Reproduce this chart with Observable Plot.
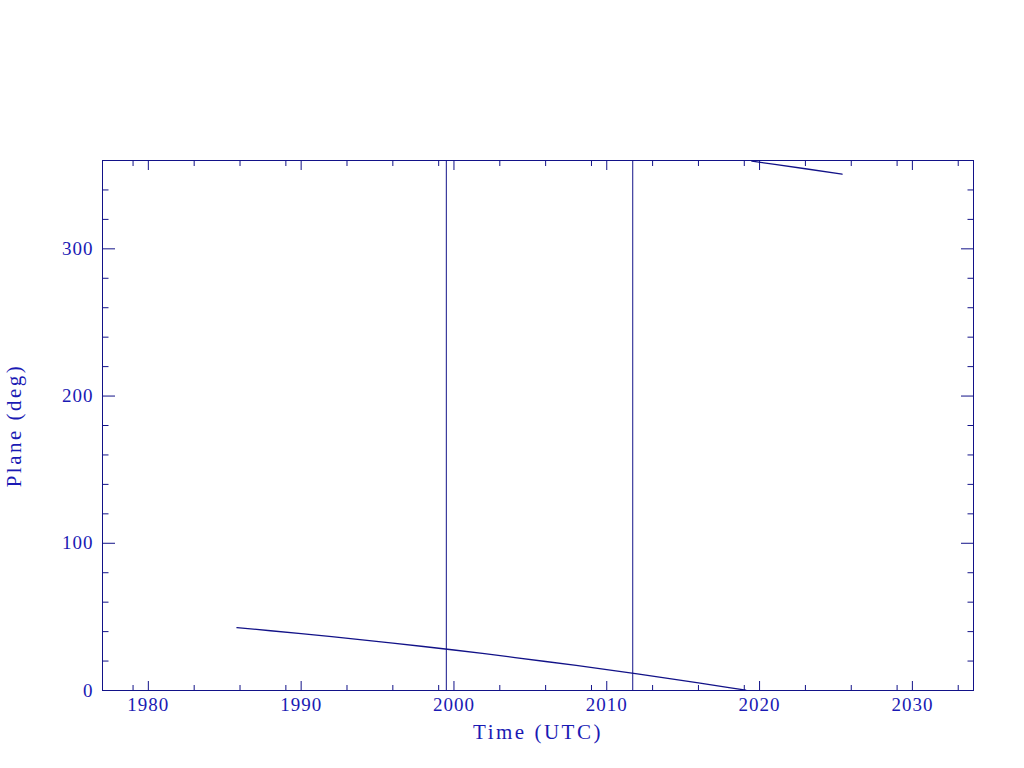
<!DOCTYPE html>
<html>
<head>
<meta charset="utf-8">
<script src="https://cdn.jsdelivr.net/npm/d3@7"></script>
<script src="https://cdn.jsdelivr.net/npm/@observablehq/plot@0.6"></script>
<style>
  html, body { margin: 0; padding: 0; background: #ffffff; }
  #chart svg { display: block; }
</style>
</head>
<body>
<div id="chart"></div>
<script>
// ---- data ----
const segA_years = [1985.8, 1988, 1990, 1992, 1994, 1996, 1998, 2000, 2002, 2004, 2006, 2008, 2010, 2012, 2014, 2016, 2018, 2019.1];
const segA_plane = [42.7, 40.6, 38.6, 36.6, 34.4, 32.2, 29.9, 27.5, 25.0, 22.4, 19.7, 17.0, 14.2, 11.3, 8.3, 5.2, 2.0, 0.2];
const segB_years = [2019.5, 2021, 2023, 2025.4];
const segB_plane = [359.6, 357.3, 354.4, 350.8];
const jumpYears = [1999.5, 2011.7];

const xMajorTicks = [1980, 1990, 2000, 2010, 2020, 2030];
const xMinorTicks = [1979, 1983, 1986, 1989, 1993, 1996, 1999, 2003, 2006, 2009, 2013, 2016, 2019, 2023, 2026, 2029, 2033];
const yMajorTicks = [0, 100, 200, 300];
const yMinorTicks = [20, 40, 60, 80, 120, 140, 160, 180, 220, 240, 260, 280, 320, 340];

const xLabel = "Time (UTC)";
const yLabel = "Plane (deg)";

// ---- build table ----
const rows = [
  ...segA_years.map((t, i) => ({t, v: segA_plane[i], seg: "A"})),
  ...segB_years.map((t, i) => ({t, v: segB_plane[i], seg: "B"}))
];

const LINE = "#121288";
const TEXT = "#1a1ab4";
const FONT = "'Liberation Serif', 'DejaVu Serif', serif";
const blank = () => "";

const chart = Plot.plot({
  width: 1024,
  height: 768,
  marginLeft: 102,
  marginRight: 51,
  marginTop: 160,
  marginBottom: 78,
  style: {background: "#ffffff", fontFamily: FONT, color: TEXT},
  x: {type: "linear", domain: [1977, 2034]},
  y: {type: "linear", domain: [0, 360]},
  marks: [
    Plot.frame({stroke: LINE, strokeWidth: 1}),
    // major / minor ticks, pointing inward, on all four sides
    Plot.axisX(xMajorTicks, {anchor: "bottom", tickSize: -9, tickFormat: blank, label: null, stroke: LINE}),
    Plot.axisX(xMinorTicks, {anchor: "bottom", tickSize: -5, tickFormat: blank, label: null, stroke: LINE}),
    Plot.axisX(xMajorTicks, {anchor: "top", tickSize: -9, tickFormat: blank, label: null, stroke: LINE}),
    Plot.axisX(xMinorTicks, {anchor: "top", tickSize: -5, tickFormat: blank, label: null, stroke: LINE}),
    Plot.axisY(yMajorTicks, {anchor: "left", tickSize: -13, tickFormat: blank, label: null, stroke: LINE}),
    Plot.axisY(yMinorTicks, {anchor: "left", tickSize: -6.5, tickFormat: blank, label: null, stroke: LINE}),
    Plot.axisY(yMajorTicks, {anchor: "right", tickSize: -13, tickFormat: blank, label: null, stroke: LINE}),
    Plot.axisY(yMinorTicks, {anchor: "right", tickSize: -6.5, tickFormat: blank, label: null, stroke: LINE}),
    // tick labels
    Plot.text(xMajorTicks, {x: d => d, frameAnchor: "bottom", dy: 14, text: d => String(d),
      fill: TEXT, fontSize: 19, fontFamily: FONT, lineAnchor: "middle", textAnchor: "middle"}),
    Plot.text(yMajorTicks, {y: d => d, frameAnchor: "left", dx: -9, text: d => String(d),
      fill: TEXT, fontSize: 19, fontFamily: FONT, textAnchor: "end", lineAnchor: "middle"}),
    // axis titles
    Plot.text([xLabel], {frameAnchor: "bottom", dy: 42, text: d => d, fill: TEXT, fontSize: 21,
      fontFamily: FONT, lineAnchor: "middle", textAnchor: "middle"}),
    Plot.text([yLabel], {frameAnchor: "left", dx: -88, rotate: -90, text: d => d, fill: TEXT, fontSize: 21,
      fontFamily: FONT, lineAnchor: "middle", textAnchor: "middle"}),
    // data
    Plot.ruleX(jumpYears, {x: d => d, y1: 0, y2: 360, stroke: LINE, strokeWidth: 1}),
    Plot.line(rows, {x: "t", y: "v", z: "seg", stroke: LINE, strokeWidth: 1.3})
  ]
});

// letter-spacing for the wide plotter-style lettering
d3.select(chart).selectAll("text").style("letter-spacing", "1px");
d3.select(chart).selectAll("text").filter(function() {
  const t = this.textContent; return t === xLabel || t === yLabel;
}).style("letter-spacing", "2.5px");

document.getElementById("chart").appendChild(chart);
</script>
</body>
</html>
